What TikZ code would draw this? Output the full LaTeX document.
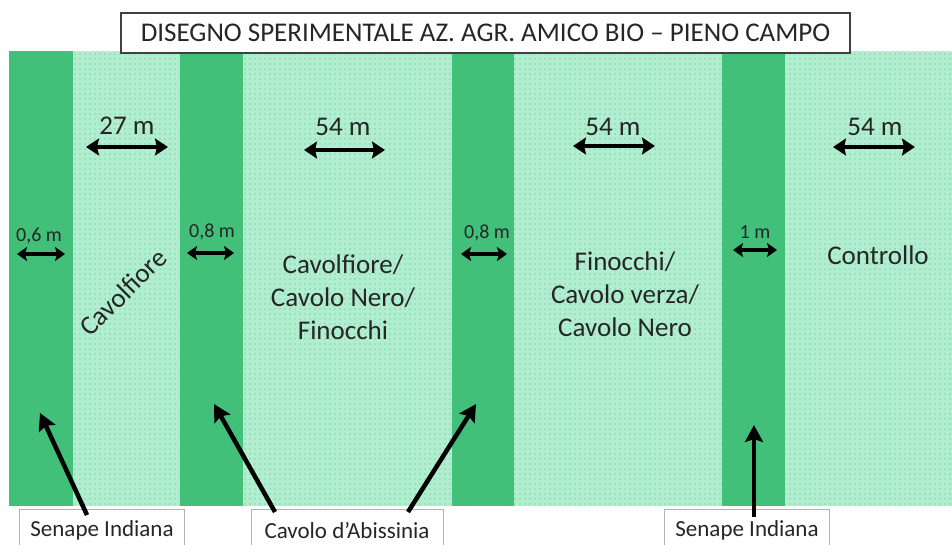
\documentclass[tikz,border=0pt]{standalone}
\usepackage{fontspec}
\setmainfont{Carlito}
\usetikzlibrary{arrows.meta,patterns.meta}
\definecolor{darkstrip}{HTML}{42C07A}
\definecolor{lightzone}{HTML}{B0EECF}
\definecolor{dotcol}{HTML}{80D5A8}
\begin{document}
\begin{tikzpicture}[x=1pt,y=-1pt,
  stripfill/.style={fill=darkstrip},
  dimarrow/.style={line width=4.5pt,{Stealth[length=13pt,width=17pt,inset=2pt]}-{Stealth[length=13pt,width=17pt,inset=2pt]}},
  smallarrow/.style={line width=3.8pt,{Stealth[length=10pt,width=14pt,inset=2pt]}-{Stealth[length=10pt,width=14pt,inset=2pt]}},
  ptr/.style={line width=4.5pt,-{Stealth[length=17pt,width=18pt,inset=3pt]}},
  dimlabel/.style={inner sep=0pt,text=black!85,font=\fontsize{27}{30}\selectfont},
  smalllabel/.style={inner sep=0pt,text=black!85,font=\fontsize{20}{22}\selectfont},
  croplabel/.style={inner sep=0pt,align=center,text=black!85,font=\fontsize{27}{33}\selectfont},
  tagbox/.style={draw=gray!60,fill=white,line width=0.8pt,anchor=north,minimum height=42pt,inner sep=0pt,text=black!85,font=\fontsize{23}{26}\selectfont}
]
\useasboundingbox (0,0) rectangle (952,544);
\fill[white] (0,0) rectangle (952,544);
% field
\fill[lightzone] (9,51) rectangle (952,506);
\fill[pattern={Dots[distance=5pt,radius=0.9pt]},pattern color=dotcol] (9,51) rectangle (952,506);
% dark strips
\fill[stripfill] (9,51) rectangle (73,506);
\fill[stripfill] (180,51) rectangle (243,506);
\fill[stripfill] (452,51) rectangle (514,506);
\fill[stripfill] (722,51) rectangle (785,506);
% title
\node[draw=black!75,fill=white,line width=1.2pt,minimum width=729pt,minimum height=40pt,inner sep=0pt,text=black!85,font=\fontsize{27}{30}\selectfont] (title) at (485.5,33) {DISEGNO SPERIMENTALE AZ. AGR. AMICO BIO – PIENO CAMPO};
% width labels
\node[dimlabel] (w1) at (127,126) {27 m};
\node[dimlabel] (w2) at (343,127) {54 m};
\node[dimlabel] (w3) at (613,127) {54 m};
\node[dimlabel] (w4) at (875,127) {54 m};
\coordinate (w1a) at (86,147);  \coordinate (w1b) at (168,147);
\coordinate (w2a) at (304,150); \coordinate (w2b) at (385,150);
\coordinate (w3a) at (573,146); \coordinate (w3b) at (655,146);
\coordinate (w4a) at (833,147); \coordinate (w4b) at (915,147);
\draw[dimarrow] (w1a) -- (w1b);
\draw[dimarrow] (w2a) -- (w2b);
\draw[dimarrow] (w3a) -- (w3b);
\draw[dimarrow] (w4a) -- (w4b);
% strip width labels
\node[smalllabel] (s1) at (39,236) {0,6 m};
\node[smalllabel] (s2) at (212,232) {0,8 m};
\node[smalllabel] (s3) at (487,233) {0,8 m};
\node[smalllabel] (s4) at (755,232) {1 m};
\coordinate (s1a) at (17,254);  \coordinate (s1b) at (65,254);
\coordinate (s2a) at (187,253); \coordinate (s2b) at (234,253);
\coordinate (s3a) at (461,254); \coordinate (s3b) at (507,254);
\coordinate (s4a) at (733,250); \coordinate (s4b) at (777,250);
\draw[smallarrow] (s1a) -- (s1b);
\draw[smallarrow] (s2a) -- (s2b);
\draw[smallarrow] (s3a) -- (s3b);
\draw[smallarrow] (s4a) -- (s4b);
% crop labels
\node[croplabel,rotate=45] (c1) at (123,292) {Cavolfiore};
\node[croplabel] (c2) at (343,297) {Cavolfiore/\\Cavolo Nero/\\Finocchi};
\node[croplabel] (c3) at (625,294) {Finocchi/\\Cavolo verza/\\Cavolo Nero};
\node[croplabel] (c4) at (878,255) {Controllo};
% bottom tags
\node[tagbox,minimum width=165pt] (tag1) at (102,509) {Senape Indiana};
\node[tagbox,minimum width=192pt] (tag2) at (347,509) {Cavolo d’Abissinia};
\node[tagbox,minimum width=165pt] (tag3) at (747,509) {Senape Indiana};
\coordinate (h1) at (40,413);
\coordinate (h2) at (214,404);
\coordinate (h3) at (476,404);
\coordinate (h4) at (754,425);
\draw[ptr] ([xshift=-15pt,yshift=-6pt]tag1.north) -- (h1);
\draw[ptr] ([xshift=-72pt,yshift=-3pt]tag2.north) -- (h2);
\draw[ptr] ([xshift=61pt,yshift=-3pt]tag2.north) -- (h3);
\draw[ptr] ([xshift=7pt,yshift=-8pt]tag3.north) -- (h4);
\end{tikzpicture}
\end{document}
